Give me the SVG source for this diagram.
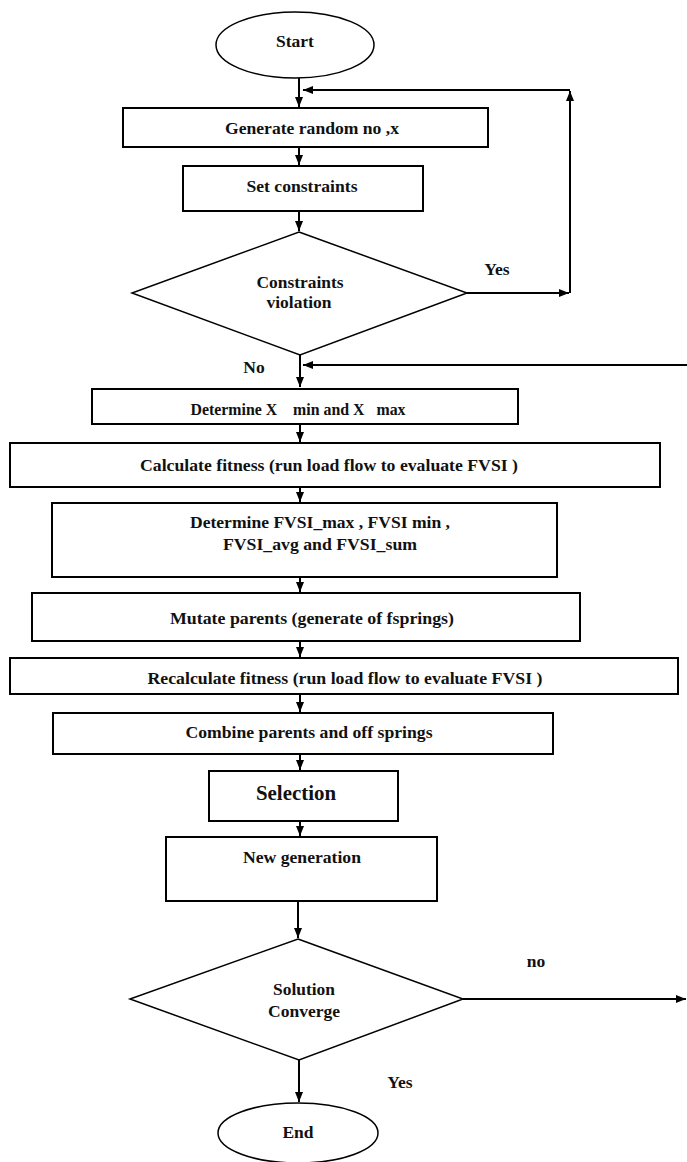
<svg xmlns="http://www.w3.org/2000/svg" width="687" height="1162" viewBox="0 0 687 1162" font-family="'Liberation Serif', 'DejaVu Serif', 'Times New Roman', serif">
<style>
.bx{fill:#fff;stroke:#000;stroke-width:2}
.dm{fill:#fff;stroke:#000;stroke-width:1.5}
.el{fill:#fff;stroke:#000;stroke-width:1.5}
.t{font-family:'Liberation Serif','DejaVu Serif','Times New Roman',serif;font-weight:bold;font-size:17.5px;fill:#111;text-anchor:middle}
.big{font-size:21px}
.c{fill:none;stroke:#000;stroke-width:2}
</style>
<defs>
<marker id="ah" markerUnits="userSpaceOnUse" markerWidth="11" markerHeight="9" refX="10" refY="4" orient="auto">
<path d="M0,0 L10,4 L0,8 z" fill="#000"/>
</marker>
</defs>
<g id="connectors">
<path class="c" d="M299,78 V107" marker-end="url(#ah)"/>
<path class="c" d="M467,293 H569" marker-end="url(#ah)"/>
<path class="c" d="M570,293 V91" marker-end="url(#ah)"/>
<path class="c" d="M570,90 H303" marker-end="url(#ah)"/>
<path class="c" d="M299,147 V165" marker-end="url(#ah)"/>
<path class="c" d="M299,211 V231" marker-end="url(#ah)"/>
<path class="c" d="M300,355 V387" marker-end="url(#ah)"/>
<path class="c" d="M687,365 H303" marker-end="url(#ah)"/>
<path class="c" d="M300,424 V442" marker-end="url(#ah)"/>
<path class="c" d="M300,487 V502" marker-end="url(#ah)"/>
<path class="c" d="M300,577 V592" marker-end="url(#ah)"/>
<path class="c" d="M300,641 V657" marker-end="url(#ah)"/>
<path class="c" d="M300,694 V712" marker-end="url(#ah)"/>
<path class="c" d="M300,754 V770" marker-end="url(#ah)"/>
<path class="c" d="M300,821 V836" marker-end="url(#ah)"/>
<path class="c" d="M298,901 V938" marker-end="url(#ah)"/>
<path class="c" d="M463,999 H686" marker-end="url(#ah)"/>
<path class="c" d="M299,1060 V1102" marker-end="url(#ah)"/>
</g>
<g id="labels">
<text class="t" x="497" y="275">Yes</text>
<text class="t" x="254" y="373">No</text>
<text class="t" x="536" y="967">no</text>
<text class="t" x="400" y="1088">Yes</text>
</g>
<g id="start">
<ellipse class="el" cx="295" cy="45" rx="79" ry="33"/>
<text class="t" x="295" y="47">Start</text>
</g>
<g id="generate">
<rect class="bx" x="123" y="108" width="365" height="39"/>
<text class="t" x="312" y="134" textLength="174" lengthAdjust="spacingAndGlyphs">Generate random no ,x</text>
</g>
<g id="setconstraints">
<rect class="bx" x="183" y="166" width="240" height="45"/>
<text class="t" x="302" y="192" textLength="111" lengthAdjust="spacingAndGlyphs">Set constraints</text>
</g>
<g id="violation">
<polygon class="dm" points="299,232 467,293 300,355 132,293"/>
<text class="t" x="300" y="288" textLength="87" lengthAdjust="spacingAndGlyphs">Constraints</text>
<text class="t" x="299" y="308" textLength="65" lengthAdjust="spacingAndGlyphs">violation</text>
</g>
<g id="determinex">
<rect class="bx" x="92" y="389" width="426" height="35"/>
<text class="t" x="298" y="415" xml:space="preserve" textLength="215" lengthAdjust="spacingAndGlyphs">Determine X    min and X   max</text>
</g>
<g id="calcfitness">
<rect class="bx" x="10" y="443" width="650" height="44"/>
<text class="t" x="329" y="471" textLength="378" lengthAdjust="spacingAndGlyphs">Calculate fitness (run load flow to evaluate FVSI )</text>
</g>
<g id="determinefvsi">
<rect class="bx" x="52" y="503" width="505" height="74"/>
<text class="t" x="320" y="528" textLength="260" lengthAdjust="spacingAndGlyphs">Determine FVSI_max , FVSI min ,</text>
<text class="t" x="320" y="550" textLength="194" lengthAdjust="spacingAndGlyphs">FVSI_avg and FVSI_sum</text>
</g>
<g id="mutate">
<rect class="bx" x="32" y="593" width="548" height="48" stroke-width="2.5"/>
<text class="t" x="312" y="624" textLength="284" lengthAdjust="spacingAndGlyphs">Mutate parents (generate of fsprings)</text>
</g>
<g id="recalc">
<rect class="bx" x="10" y="658" width="668" height="36"/>
<text class="t" x="345" y="684" textLength="395" lengthAdjust="spacingAndGlyphs">Recalculate fitness (run load flow to evaluate FVSI )</text>
</g>
<g id="combine">
<rect class="bx" x="53" y="713" width="500" height="41"/>
<text class="t" x="309" y="738" textLength="247" lengthAdjust="spacingAndGlyphs">Combine parents and off springs</text>
</g>
<g id="selection">
<rect class="bx" x="209" y="771" width="189" height="50"/>
<text class="t big" x="296" y="800" textLength="80" lengthAdjust="spacingAndGlyphs">Selection</text>
</g>
<g id="newgen">
<rect class="bx" x="166" y="837" width="271" height="64"/>
<text class="t" x="302" y="863" textLength="118" lengthAdjust="spacingAndGlyphs">New generation</text>
</g>
<g id="converge">
<polygon class="dm" points="298,939 463,999 299,1060 130,999"/>
<text class="t" x="304" y="995" textLength="62" lengthAdjust="spacingAndGlyphs">Solution</text>
<text class="t" x="304" y="1017" textLength="72" lengthAdjust="spacingAndGlyphs">Converge</text>
</g>
<g id="end">
<ellipse class="el" cx="298" cy="1133" rx="80" ry="30"/>
<text class="t" x="298" y="1138">End</text>
</g>
</svg>
